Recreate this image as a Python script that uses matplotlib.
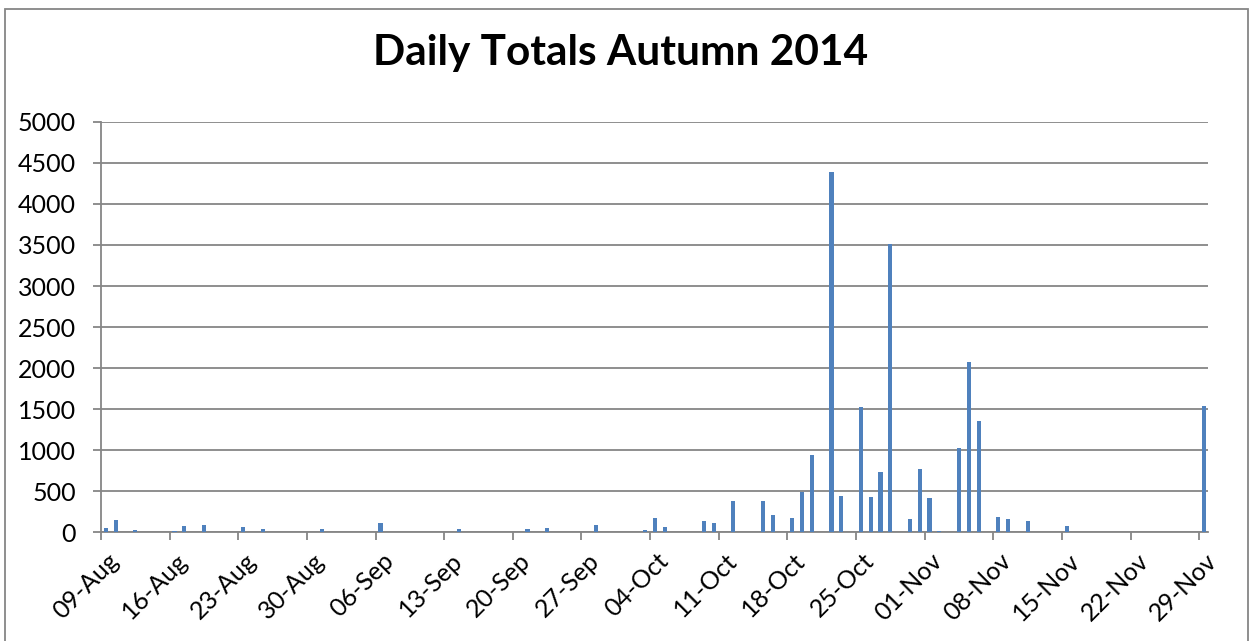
import matplotlib
matplotlib.use("Agg")
import matplotlib.pyplot as plt
import matplotlib.dates as mdates
import matplotlib.patches as mpatches
import matplotlib.transforms as mtransforms
import pandas as pd

plt.rcParams['font.family'] = ['Lato', 'DejaVu Sans']

# daily totals (days not listed are zero)
days = ['09-Aug', '10-Aug', '12-Aug', '16-Aug', '17-Aug', '19-Aug', '23-Aug',
        '25-Aug', '31-Aug', '06-Sep', '14-Sep', '21-Sep', '23-Sep', '28-Sep',
        '03-Oct', '04-Oct', '05-Oct', '09-Oct', '10-Oct', '12-Oct', '15-Oct',
        '16-Oct', '18-Oct', '19-Oct', '20-Oct', '22-Oct', '23-Oct', '25-Oct',
        '26-Oct', '27-Oct', '28-Oct', '30-Oct', '31-Oct', '01-Nov', '02-Nov',
        '04-Nov', '05-Nov', '06-Nov', '08-Nov', '09-Nov', '11-Nov', '15-Nov',
        '29-Nov']
totals = [50, 150, 20, 10, 75, 90, 60,
          35, 35, 110, 35, 35, 50, 90,
          30, 165, 65, 140, 115, 383, 375,
          212, 171, 484, 937, 4390, 444, 1530,
          432, 728, 3510, 155, 768, 415, 10,
          1020, 2073, 1354, 180, 163, 139, 78,
          1541]
start_day = '09-Aug-2014'
end_day = '30-Nov-2014'

dates = pd.to_datetime([d + '-2014' for d in days], format='%d-%b-%Y')
x = mdates.date2num(dates) + 0.5

fig = plt.figure(figsize=(12.5, 6.41), dpi=100)
ax = fig.add_axes([0.0808, 0.170, 0.8856, 0.6397])

grey = '#868686'
ax.bar(x, totals, width=0.42, color='#4F81BD', zorder=3)

x0 = mdates.date2num(pd.Timestamp(start_day))
x1 = mdates.date2num(pd.Timestamp(end_day))
ax.set_xlim(x0, x1 - 0.1)
ax.set_ylim(0, 5000)
ax.set_yticks(range(0, 5001, 500))
ax.set_xticks([x0 + 7 * i for i in range(17)])
ax.xaxis.set_major_formatter(mdates.DateFormatter('%d-%b'))

ax.grid(axis='y', color=grey, linewidth=1.3, zorder=0)
for s in ['top', 'right']:
    ax.spines[s].set_visible(False)
for s in ['left', 'bottom']:
    ax.spines[s].set_color(grey)
    ax.spines[s].set_linewidth(1.3)
ax.tick_params(axis='y', colors=grey, length=6, width=1.3, labelsize=18,
               labelcolor='black', pad=12)
ax.tick_params(axis='x', colors=grey, length=6, width=1.3, labelsize=18,
               labelcolor='black', pad=6, labelrotation=45)
shift = mtransforms.ScaledTranslation(6 / 100, 0, fig.dpi_scale_trans)
for lab in ax.get_xticklabels():
    lab.set_ha('right')
    lab.set_rotation_mode('anchor')
    lab.set_transform(lab.get_transform() + shift)

fig.text(0.4965, 0.898, 'Daily Totals Autumn 2014', ha='center', va='baseline',
         fontsize=30.5, fontweight='bold')

fig.patches.append(mpatches.Rectangle((5 / 1250, -0.05), 1243 / 1250, 1.036,
                                      transform=fig.transFigure, fill=False,
                                      edgecolor=grey, linewidth=1.3))

fig.savefig('out.png', dpi=100)
